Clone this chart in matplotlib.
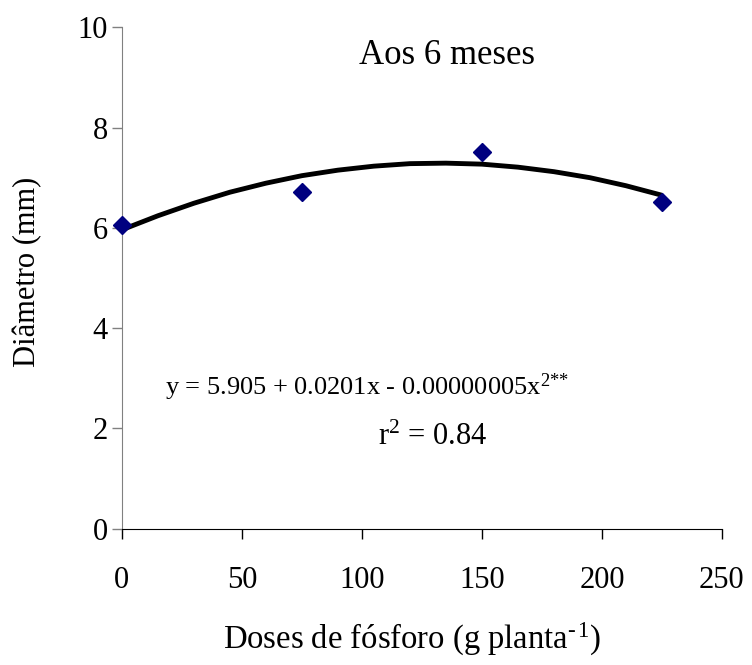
import matplotlib
matplotlib.use("Agg")
import matplotlib.pyplot as plt

# observed means
doses = [0, 75, 150, 225]
diametro = [6.05, 6.71, 7.52, 6.51]

# fitted curve
curve_x = [0, 15, 30, 45, 60, 75, 90, 105, 120, 135, 150, 165, 180, 195, 210, 225]
curve_y = [5.96, 6.24, 6.49, 6.71, 6.89, 7.04, 7.15, 7.23, 7.28, 7.29, 7.27, 7.21, 7.12, 7.00, 6.84, 6.65]

x_ticks = [0, 50, 100, 150, 200, 250]
y_ticks = [0, 2, 4, 6, 8, 10]


def setup_style():
    plt.rc('font', family='Liberation Serif', size=22)
    plt.rc('mathtext', fontset='custom', rm='Liberation Serif',
           it='Liberation Serif', bf='Liberation Serif')


def main():
    setup_style()
    fig = plt.figure(figsize=(7.52, 6.65), dpi=100)
    ax = fig.add_axes([0.162, 0.205, 0.798, 0.754])

    ax.plot(curve_x, curve_y, color='black', linewidth=3.5,
            solid_capstyle='butt', zorder=2)
    ax.plot(doses, diametro, linestyle='none', marker='D', markersize=9,
            color='#000080', clip_on=False, zorder=3)

    ax.set_xlim(0, 250)
    ax.set_ylim(0, 10)
    ax.set_xticks(x_ticks)
    ax.set_yticks(y_ticks)

    for side in ['top', 'right']:
        ax.spines[side].set_visible(False)
    ax.spines['left'].set_color('#808080')
    ax.spines['bottom'].set_color('black')
    ax.tick_params(axis='y', direction='out', length=7, width=1,
                   color='#808080', pad=3)
    ax.tick_params(axis='x', direction='out', length=7, width=1,
                   color='black', pad=20)

    ax.set_xlabel('Doses de fósforo (g planta$^{\u2010\u200a1}$)', va='center',
                  fontsize=23.5)
    ax.xaxis.set_label_coords(0.483, -0.221)
    ax.set_ylabel('Diâmetro (mm)', va='center')
    ax.yaxis.set_label_coords(-0.157, 0.512)

    ax.text(135.4, 9.44, 'Aos 6 meses', ha='center', va='center', fontsize=25)
    ax.text(102, 2.83, 'y = 5.905 + 0.0201x - 0.00000005x$^{2{*}{*}}$',
            ha='center', va='center', fontsize=19)
    ax.text(129.6, 1.83, 'r$^{2}$ = 0.84', ha='center', va='center', fontsize=22)

    fig.savefig('out.png', dpi=100)
    plt.close(fig)


if __name__ == '__main__':
    main()
